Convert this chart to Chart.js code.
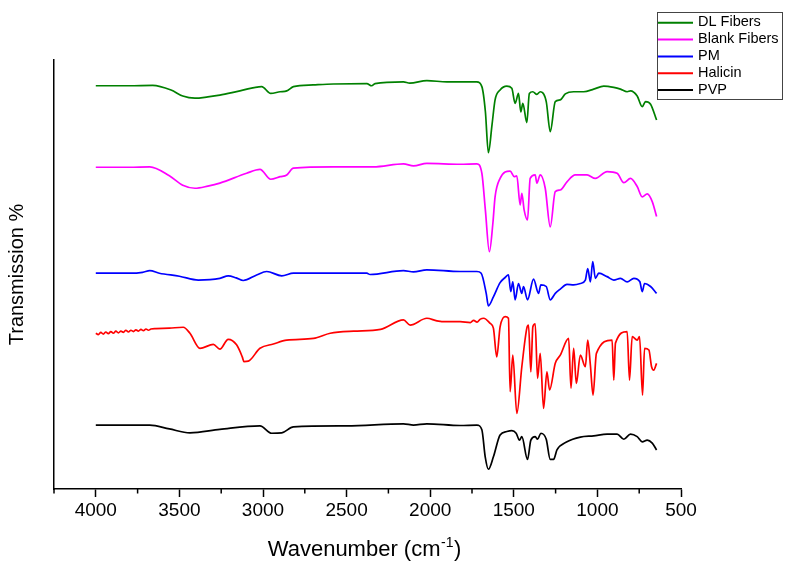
<!DOCTYPE html>
<html><head><meta charset="utf-8">
<script src="https://cdn.jsdelivr.net/npm/chart.js@4/dist/chart.umd.min.js"></script>
<style>html,body{margin:0;padding:0;background:#fff}canvas{display:block}</style>
</head><body>
<canvas id="c" width="794" height="563"></canvas>
<script>
// ---- data ----
const seriesNames = ['DL Fibers', 'Blank Fibers', 'PM', 'Halicin', 'PVP'];

const dlWave = [4000,3800,3660,3550,3480,3407,3330,3258,3138,3008,2954,2898,2858,2818,2700,2579,2379,2350,2330,2160,2122,2020,1900,1721,1691,1670,1652,1630,1612,1582,1542,1512,1492,1472,1458,1446,1422,1407,1386,1362,1342,1306,1282,1252,1222,1192,1142,1082,1022,962,902,862,822,802,762,732,712,682,646];
const dlT = [94.0,94.0,94.1,93.0,91.6,91.1,91.4,91.8,92.8,93.8,92.2,92.6,92.8,93.8,94.2,94.4,94.5,94.0,94.5,94.9,94.6,95.2,94.9,94.9,93.8,88.0,78.4,85.0,90.7,93.0,93.9,93.4,89.9,92.2,87.9,89.9,85.4,92.2,92.6,92.0,92.6,90.3,83.3,90.3,90.7,92.1,92.6,92.6,93.2,93.9,93.6,93.2,92.6,92.8,91.6,89.1,90.3,89.7,86.0];

const blankWave = [4000,3800,3677,3560,3480,3407,3330,3258,3098,3018,2954,2898,2858,2818,2579,2340,2160,2100,2020,1821,1721,1691,1670,1646,1625,1612,1582,1522,1497,1482,1462,1452,1438,1418,1402,1372,1362,1342,1312,1282,1252,1222,1182,1132,1062,1012,942,882,842,802,762,732,702,672,646];
const blankT = [75.0,75.0,75.1,73.0,70.8,70.1,70.6,71.3,73.6,74.5,72.2,72.8,73.2,74.8,75.1,75.1,75.8,75.3,75.9,75.7,75.8,73.6,65.0,55.3,62.0,68.1,72.4,74.1,72.8,73.0,66.2,68.9,65.0,62.7,72.4,73.2,71.3,73.2,70.1,61.1,69.3,69.7,71.6,73.2,73.2,72.4,74.0,73.6,71.4,72.4,70.5,68.1,68.8,67.0,63.5];

const pmWave = [4000,3800,3720,3677,3620,3500,3387,3258,3208,3160,3118,3038,2978,2888,2818,2379,2360,2160,2100,2020,1821,1721,1695,1665,1652,1622,1582,1552,1532,1518,1506,1492,1472,1452,1442,1418,1382,1352,1338,1306,1282,1252,1222,1182,1142,1102,1072,1058,1042,1028,1012,992,942,902,862,822,782,746,732,718,682,646];
const pmT = [50.3,50.3,50.5,50.9,50.3,49.6,48.7,49.1,49.7,49.2,48.6,49.9,50.7,49.7,50.3,50.3,50.0,50.9,50.6,51.1,50.7,50.7,50.3,45.6,42.7,44.8,48.1,49.3,49.9,46.0,48.3,44.1,47.9,45.6,47.2,44.1,48.9,45.6,47.6,47.2,44.1,45.6,46.6,47.7,47.6,47.9,48.7,51.4,48.3,53.0,49.1,50.3,49.5,48.7,49.1,48.3,49.1,48.3,46.0,47.9,47.2,45.6];

const halicinWave = [4000,3985,3970,3955,3940,3925,3910,3895,3880,3865,3850,3835,3820,3805,3790,3775,3760,3745,3730,3715,3700,3685,3670,3640,3560,3477,3437,3377,3297,3258,3208,3158,3124,3114,3088,3018,2938,2858,2698,2598,2458,2297,2160,2120,2020,1960,1900,1821,1760,1740,1720,1700,1680,1641,1622,1602,1582,1552,1532,1522,1506,1482,1452,1422,1412,1398,1386,1372,1358,1342,1322,1302,1286,1252,1222,1172,1158,1142,1126,1102,1072,1058,1042,1026,1006,912,902,892,822,808,792,762,748,730,718,692,676,663,646];
const halicinT = [36.3,36.0,36.5,36.1,36.6,36.2,36.7,36.3,36.8,36.4,36.8,36.5,37.0,36.6,37.0,36.7,37.1,36.8,37.2,36.9,37.3,37.0,37.3,37.4,37.5,37.7,36.3,32.8,33.7,32.6,34.9,33.6,30.8,29.7,29.8,32.8,33.8,34.7,35.1,36.3,36.8,37.2,39.4,38.2,39.8,39.2,39.0,39.0,38.8,39.3,38.9,39.6,39.8,38.6,37.5,30.8,37.8,40.2,39.8,22.7,31.2,17.6,28.5,37.5,38.2,27.3,37.8,38.5,25.8,31.6,18.8,27.3,23.1,29.3,31.2,35.1,23.5,32.8,24.6,31.2,28.5,34.7,28.9,21.9,31.6,34.7,25.4,34.0,36.7,25.4,35.5,34.7,35.5,21.9,32.8,32.4,28.5,27.7,29.3];

const pvpWave = [4000,3800,3677,3560,3437,3258,3018,2948,2888,2818,2500,2160,2100,2020,1821,1721,1691,1671,1652,1622,1582,1542,1512,1486,1466,1452,1418,1398,1372,1358,1338,1306,1282,1262,1242,1182,1102,1022,942,882,842,802,762,732,702,672,646];
const pvpT = [14.9,14.9,14.9,14.0,13.1,13.9,14.7,13.0,13.1,14.5,14.7,15.2,14.9,15.2,14.8,14.9,13.8,7.5,4.6,7.5,12.6,13.4,13.6,13.0,11.4,12.2,6.9,11.4,12.2,11.6,13.0,11.6,6.9,6.9,9.1,11.0,12.1,12.4,12.8,12.8,11.6,12.8,12.2,11.0,11.4,10.7,9.1];

const xMajorTicks = [4000,3500,3000,2500,2000,1500,1000,500];
const xMinorTicks = [4250,3750,3250,2750,2250,1750,1250,750];

// ---- styles ----
const seriesColors = ['#008000', '#ff00ff', '#0000ff', '#ff0000', '#000000'];
const FONT = "'Liberation Sans', Arial, Helvetica, sans-serif";

const waves = [dlWave, blankWave, pmWave, halicinWave, pvpWave];
const values = [dlT, blankT, pmT, halicinT, pvpT];

const datasets = seriesNames.map((name, i) => ({
  label: name,
  data: waves[i].map((w, j) => ({ x: w, y: values[i][j] })),
  borderColor: seriesColors[i],
  backgroundColor: seriesColors[i],
  borderWidth: 1.7,
  pointRadius: 0,
  fill: false,
  tension: 0,
  cubicInterpolationMode: 'monotone'
}));

const extras = {
  id: 'extras',
  afterDraw(chart) {
    const ctx = chart.ctx;
    const xs = chart.scales.x;
    ctx.save();
    // minor ticks
    ctx.strokeStyle = '#000';
    ctx.lineWidth = 1.5;
    xMinorTicks.forEach(v => {
      const px = xs.getPixelForValue(v);
      ctx.beginPath();
      ctx.moveTo(px, xs.top);
      ctx.lineTo(px, xs.top + 4.5);
      ctx.stroke();
    });
    // x axis title with superscript
    const main = 'Wavenumber (cm';
    const sup = '-1';
    const end = ')';
    const big = '22px ' + FONT, small = '14px ' + FONT;
    ctx.fillStyle = '#000';
    ctx.textBaseline = 'alphabetic';
    ctx.textAlign = 'left';
    ctx.font = big; const w1 = ctx.measureText(main).width; const w3 = ctx.measureText(end).width;
    ctx.font = small; const w2 = ctx.measureText(sup).width;
    const total = w1 + w2 + w3 + 1;
    const cx = (chart.chartArea.left + chart.chartArea.right) / 2 - 3;
    let x0 = cx - total / 2;
    const base = 556;
    ctx.font = big; ctx.fillText(main, x0, base);
    ctx.font = small; ctx.fillText(sup, x0 + w1 + 0.5, base - 9);
    ctx.font = big; ctx.fillText(end, x0 + w1 + w2 + 1, base);
    // legend box
    ctx.strokeStyle = '#444';
    ctx.lineWidth = 1;
    ctx.strokeRect(657.5, 12.5, 125, 87);
    ctx.font = '14.5px ' + FONT;
    ctx.textBaseline = 'middle';
    chart.data.datasets.forEach((ds, i) => {
      const y = 22.7 + i * 16.85;
      ctx.strokeStyle = ds.borderColor;
      ctx.lineWidth = 2;
      ctx.beginPath();
      ctx.moveTo(658, y);
      ctx.lineTo(693, y);
      ctx.stroke();
      ctx.fillStyle = '#000';
      ctx.fillText(ds.label, 698, y - 0.5);
    });
    ctx.restore();
  }
};

new Chart(document.getElementById('c'), {
  type: 'line',
  data: { datasets },
  plugins: [extras],
  options: {
    responsive: false,
    animation: false,
    devicePixelRatio: 1,
    events: [],
    layout: { padding: { top: 60, right: 113, left: 0, bottom: 0 } },
    plugins: { legend: { display: false }, tooltip: { enabled: false } },
    scales: {
      x: {
        type: 'linear',
        reverse: true,
        min: 500,
        max: 4250,
        afterFit: s => { s.height = 74; },
        border: { display: true, color: '#000', width: 1.5 },
        grid: {
          drawOnChartArea: false,
          drawTicks: true,
          tickLength: 8,
          tickWidth: 1.5,
          tickColor: c => (c.tick && xMajorTicks.includes(c.tick.value)) ? '#000' : 'rgba(0,0,0,0)'
        },
        ticks: {
          stepSize: 250,
          autoSkip: false,
          maxRotation: 0,
          padding: 2,
          color: '#000',
          font: { family: FONT, size: 19 },
          callback: v => xMajorTicks.includes(v) ? String(v) : ''
        },
        title: { display: false }
      },
      y: {
        type: 'linear',
        min: 0,
        max: 100,
        afterFit: s => { s.width = 54; },
        border: { display: true, color: '#000', width: 1.5 },
        grid: { drawOnChartArea: false, drawTicks: false },
        ticks: { display: false },
        title: {
          display: true,
          text: 'Transmission %',
          color: '#000',
          font: { family: FONT, size: 20 },
          padding: { top: 5, bottom: 0 }
        }
      }
    }
  }
});
</script>
</body></html>
